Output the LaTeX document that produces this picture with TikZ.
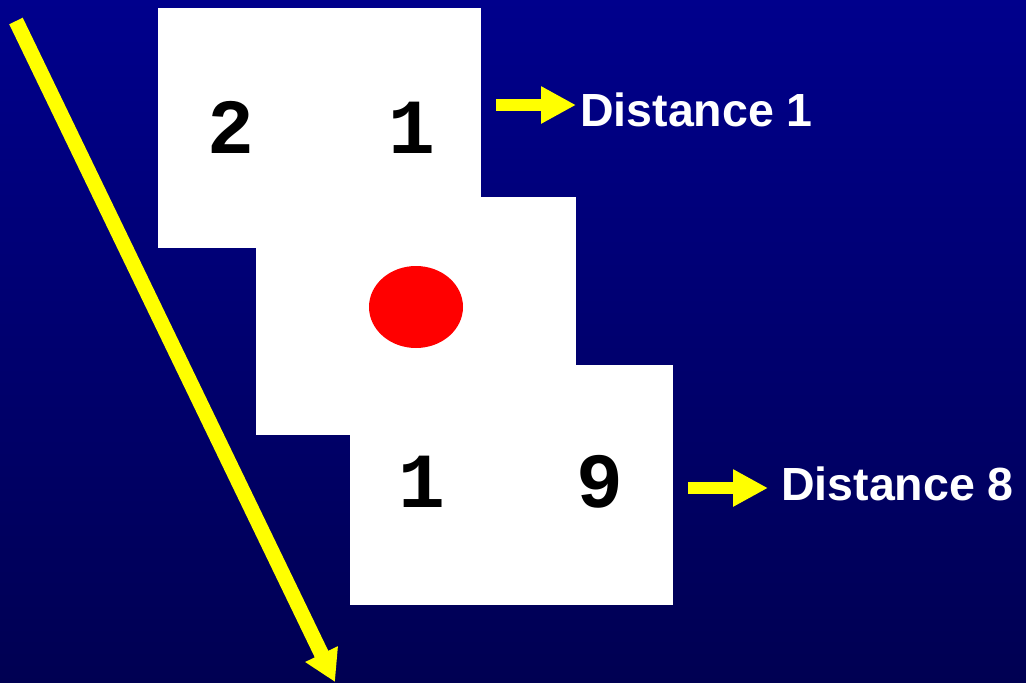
\documentclass[tikz,border=0pt]{standalone}
\usepackage{fontspec}
\setmainfont{Liberation Sans}
\newfontfamily\monofont{Liberation Mono}
\usetikzlibrary{arrows.meta,shapes.geometric}
\definecolor{bgtop}{RGB}{0,0,140}
\definecolor{bgbot}{RGB}{0,0,82}
\definecolor{arrowyellow}{RGB}{255,255,0}
\begin{document}
\begin{tikzpicture}[x=1pt,y=-1pt,
  card/.style={fill=white,draw=none},
  digit/.style={anchor=base,inner sep=0pt,font=\monofont\bfseries\fontsize{78}{78}\selectfont,text=black},
  label/.style={anchor=base west,inner sep=0pt,font=\bfseries\fontsize{46.5}{46.5}\selectfont,text=white},
  yarrow/.style={draw=arrowyellow,line width=12pt,line cap=butt,-{Triangle[length=35pt,width=35pt]}},
  bigarrow/.style={draw=arrowyellow,line width=15pt,line cap=butt,-{Triangle[length=31pt,width=34pt]}}]
\useasboundingbox (0,0) rectangle (1026,683);
\shade[top color=bgtop,bottom color=bgbot] (0,0) rectangle (1026,683);
% cards
\path[card] (158,8) rectangle (481,248);
\path[card] (256,197) rectangle (576,435);
\path[card] (350,365) rectangle (673,605);
% red dot
\node[ellipse,fill=red,minimum width=94pt,minimum height=82pt,inner sep=0pt] (dot) at (416,307) {};
% digits
\node[digit] (a2) at (231,153) {2};
\node[digit] (a1) at (412,153) {1};
\node[digit] (b1) at (422,507) {1};
\node[digit] (b9) at (600,507) {9};
% labels
\node[label] (d1) at (580,126) {Distance 1};
\node[label] (d8) at (781,500) {Distance 8};
% arrows
\coordinate (s1) at (496,105);
\coordinate (e1) at (576,105);
\coordinate (s8) at (688,488);
\coordinate (e8) at (768,488);
\draw[yarrow] (s1) -- (e1);
\draw[yarrow] (s8) -- (e8);
\coordinate (ds) at (16,21);
\coordinate (de) at (335,682);
\draw[bigarrow] (ds) -- (de);
\end{tikzpicture}
\end{document}
